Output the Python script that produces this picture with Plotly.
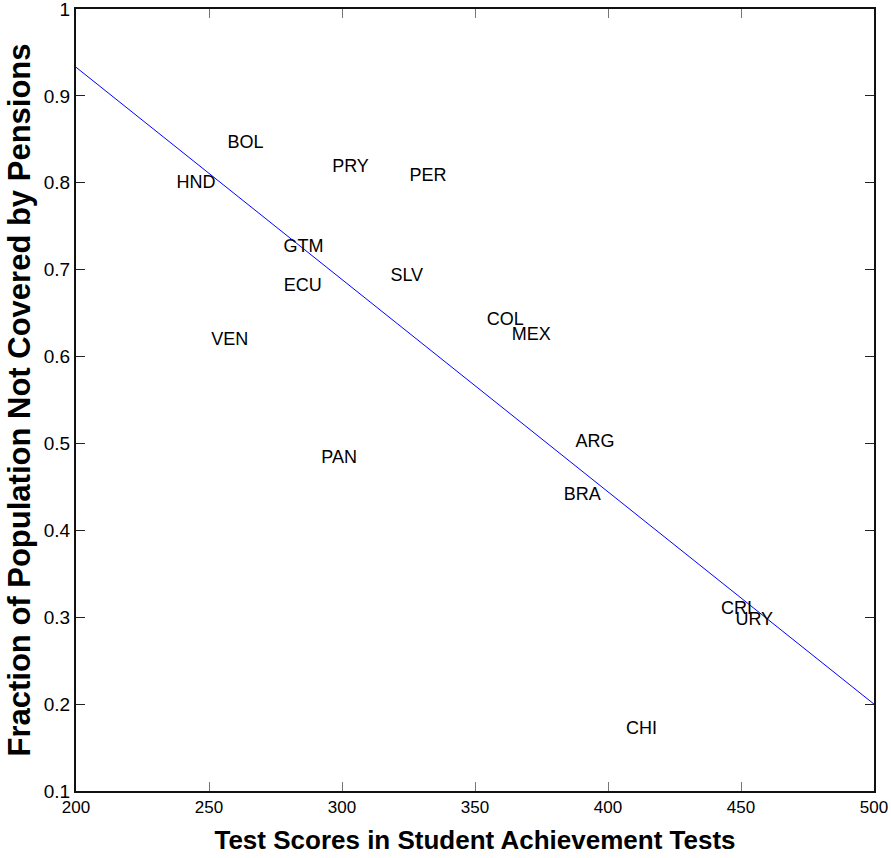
import plotly.graph_objects as go

# Country codes with test scores (x) and share of population without pension coverage (y)
countries = ["BOL", "HND", "PRY", "PER", "GTM", "ECU", "SLV", "VEN", "COL", "MEX",
             "PAN", "ARG", "BRA", "CRI", "URY", "CHI"]
test_scores = [257.0, 237.8, 296.3, 325.4, 278.0, 278.1, 318.2, 250.8, 354.4, 363.8,
               292.2, 387.8, 383.4, 442.5, 447.9, 406.8]
not_covered = [0.845, 0.799, 0.818, 0.807, 0.726, 0.681, 0.692, 0.619, 0.642, 0.624,
               0.483, 0.501, 0.440, 0.309, 0.296, 0.171]

# Fitted regression line end points
fit_x = [200, 500]
fit_y = [0.933, 0.200]

x_ticks = [200, 250, 300, 350, 400, 450, 500]
y_ticks = [0.1, 0.2, 0.3, 0.4, 0.5, 0.6, 0.7, 0.8, 0.9, 1.0]
y_tick_text = ["0.1", "0.2", "0.3", "0.4", "0.5", "0.6", "0.7", "0.8", "0.9", "1"]

SANS = "Liberation Sans, Arial, Helvetica, sans-serif"

fig = go.Figure()
fig.add_trace(go.Scatter(
    x=fit_x, y=fit_y, mode="lines",
    line=dict(color="#0000ff", width=1),
    hoverinfo="skip", showlegend=False,
))
fig.add_trace(go.Scatter(
    x=test_scores, y=not_covered, mode="text", text=countries,
    textposition="middle right",
    textfont=dict(family=SANS, size=18, color="black"),
    showlegend=False,
))

axis_common = dict(
    showgrid=False, zeroline=False, showline=True, linecolor="#111111", linewidth=2,
    mirror="allticks", ticks="inside", ticklen=9, tickwidth=1, automargin=False,
    ticklabeloverflow="allow",
)
fig.update_xaxes(
    range=[200, 500], tickvals=x_ticks, tickcolor="#777777",
    tickfont=dict(family=SANS, size=17, color="black"),
    title=dict(text="<b>Test Scores in Student Achievement Tests</b>",
               font=dict(family=SANS, size=26, color="black"), standoff=14),
    **axis_common,
)
fig.update_yaxes(
    range=[0.1, 1.0], tickvals=y_ticks, ticktext=y_tick_text, tickcolor="#222222",
    tickfont=dict(family=SANS, size=19, color="black"),
    title=dict(text="<b>Fraction of Population Not Covered by Pensions</b>",
               font=dict(family=SANS, size=31, color="black"), standoff=4),
    **axis_common,
)
fig.update_layout(
    width=891, height=858,
    margin=dict(l=76, r=17, t=9, b=67),
    plot_bgcolor="white", paper_bgcolor="white",
)
fig.write_html("out.html")
